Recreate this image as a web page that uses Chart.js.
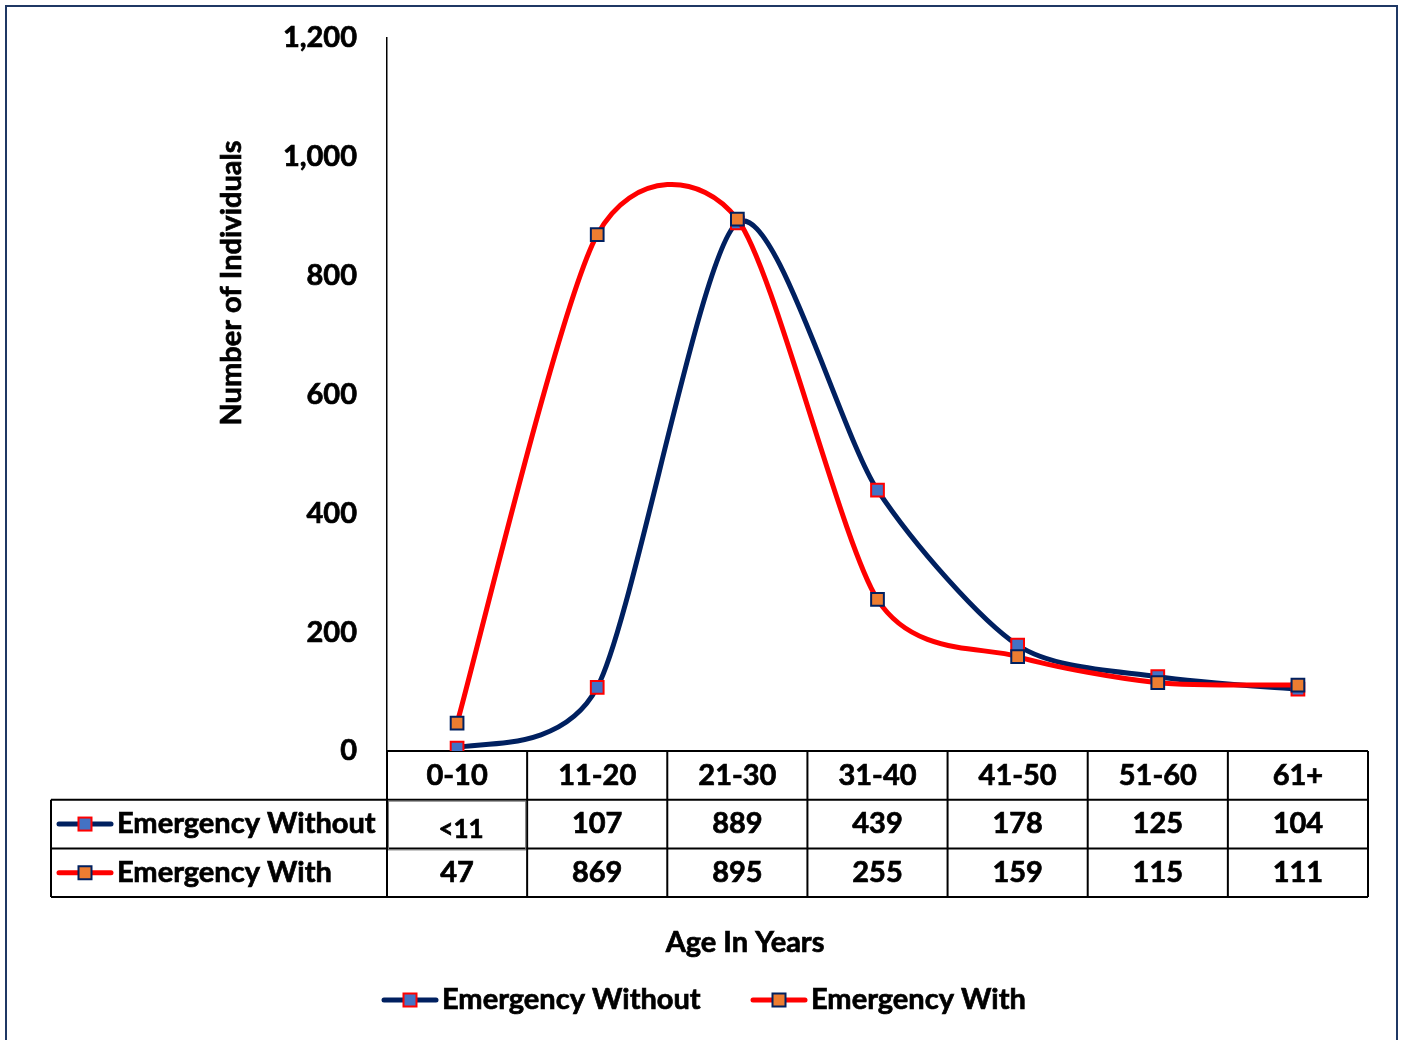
<!DOCTYPE html>
<html>
<head>
<meta charset="utf-8">
<script src="https://cdn.jsdelivr.net/npm/chart.js@4.4.1/dist/chart.umd.min.js"></script>
<style>
  body { margin: 0; background: #fff; }
  #wrap { width: 1404px; height: 1040px; }
</style>
</head>
<body>
<div id="wrap"><canvas id="js-age-chart" width="1404" height="1040"></canvas></div>
<script>
const ageGroups = ['0-10', '11-20', '21-30', '31-40', '41-50', '51-60', '61+'];
const withoutValues = [5, 107, 889, 439, 178, 125, 104];
const withValues = [47, 869, 895, 255, 159, 115, 111];
const withoutTableText = ['<11', '107', '889', '439', '178', '125', '104'];
const withTableText = ['47', '869', '895', '255', '159', '115', '111'];
const yTicks = [0, 200, 400, 600, 800, 1000, 1200];

const navy = '#002060';
const red = '#FF0000';
const blueFill = '#4472C4';
const orangeFill = '#ED7D31';
const fontFamily = 'Lato, "Open Sans", sans-serif';
const boldFont = 'bold 29px ' + fontFamily;

// excel style smoothing: control points at a fixed share of the neighbour span
const smoothing = 0.13;

function boldText(ctx, text, x, y) {
  ctx.fillText(text, x, y);
  ctx.strokeText(text, x, y);
}

// little line + square icon, same as excel's legend key
function drawKey(ctx, cx, cy, lineColor, fill, stroke) {
  ctx.save();
  ctx.strokeStyle = lineColor;
  ctx.lineWidth = 5;
  ctx.lineCap = 'round';
  ctx.beginPath();
  ctx.moveTo(cx - 26, cy);
  ctx.lineTo(cx + 26, cy);
  ctx.stroke();
  ctx.fillStyle = fill;
  ctx.fillRect(cx - 6.5, cy - 6.5, 13, 13);
  ctx.strokeStyle = stroke;
  ctx.lineWidth = 2;
  ctx.strokeRect(cx - 6.5, cy - 6.5, 13, 13);
  ctx.restore();
}

const excelSmoothPlugin = {
  id: 'excelSmooth',
  beforeDatasetsDraw(chart) {
    chart.getSortedVisibleDatasetMetas().forEach((meta) => {
      meta.dataset.updateControlPoints(chart.chartArea, 'x');
      const pts = meta.data;
      pts.forEach((p, i) => {
        const prev = pts[i - 1] || p;
        const next = pts[i + 1] || p;
        const dx = (next.x - prev.x) * smoothing;
        const dy = (next.y - prev.y) * smoothing;
        p.cp1x = p.x - dx;
        p.cp1y = p.y - dy;
        p.cp2x = p.x + dx;
        p.cp2y = p.y + dy;
      });
    });
  }
};

const tablePlugin = {
  id: 'dataTable',
  beforeDatasetsDraw(chart) {
    const ctx = chart.ctx;
    const x = chart.scales.x;
    const area = chart.chartArea;
    const step = x.getPixelForValue(1) - x.getPixelForValue(0);
    const top = area.bottom;
    const rowH = 48.7;
    const legendLeft = 51;

    ctx.save();
    ctx.strokeStyle = '#000';
    ctx.lineWidth = 2;
    ctx.beginPath();
    // header row top = x axis
    ctx.moveTo(area.left, top);
    ctx.lineTo(area.right, top);
    for (let r = 1; r <= 3; r++) {
      ctx.moveTo(legendLeft, top + r * rowH);
      ctx.lineTo(area.right, top + r * rowH);
    }
    for (let i = 0; i <= ageGroups.length; i++) {
      const px = area.left + i * step;
      ctx.moveTo(px, top);
      ctx.lineTo(px, top + 3 * rowH);
    }
    ctx.moveTo(legendLeft, top + rowH);
    ctx.lineTo(legendLeft, top + 3 * rowH);
    ctx.stroke();

    // odd little inner box around the "<11" cell
    ctx.strokeStyle = '#777';
    ctx.lineWidth = 1;
    ctx.strokeRect(area.left + 1.5, top + rowH + 1.5, step - 3, rowH);

    ctx.fillStyle = '#000';
    ctx.strokeStyle = '#000';
    ctx.lineWidth = 0.7;
    ctx.textAlign = 'center';
    ctx.textBaseline = 'middle';
    ctx.font = boldFont;
    ageGroups.forEach((label, i) => {
      const cx = x.getPixelForValue(i);
      boldText(ctx, label, cx, top + rowH * 0.5);
      if (withoutTableText[i] === '<11') {
        ctx.font = 'bold 26px ' + fontFamily;
        boldText(ctx, withoutTableText[i], cx + 4, top + rowH * 1.5 + 6);
        ctx.font = boldFont;
      } else {
        boldText(ctx, withoutTableText[i], cx, top + rowH * 1.5);
      }
      boldText(ctx, withTableText[i], cx, top + rowH * 2.5);
    });

    // legend keys inside table
    ctx.textAlign = 'left';
    drawKey(ctx, 85, top + rowH * 1.5, navy, blueFill, red);
    boldText(ctx, 'Emergency Without', 117, top + rowH * 1.5);
    drawKey(ctx, 85, top + rowH * 2.5, red, orangeFill, navy);
    boldText(ctx, 'Emergency With', 117, top + rowH * 2.5);

    // axis titles
    ctx.textAlign = 'center';
    boldText(ctx, 'Age In Years', 745, 943);
    ctx.save();
    ctx.translate(232, 283);
    ctx.rotate(-Math.PI / 2);
    boldText(ctx, 'Number of Individuals', 0, 0);
    ctx.restore();

    // bottom legend
    ctx.textAlign = 'left';
    drawKey(ctx, 410, 1000, navy, blueFill, red);
    boldText(ctx, 'Emergency Without', 442, 1000);
    drawKey(ctx, 779, 1000, red, orangeFill, navy);
    boldText(ctx, 'Emergency With', 811, 1000);

    // outer chart frame
    ctx.strokeStyle = '#1F3864';
    ctx.lineWidth = 2;
    ctx.strokeRect(6, 6, 1391, 1040);
    ctx.restore();
  }
};

const ageData = {
  labels: ageGroups,
  datasets: [{
    label: 'Emergency Without',
    data: withoutValues,
    borderColor: navy,
    borderWidth: 5,
    pointStyle: 'rect',
    pointRadius: 9,
    pointBorderWidth: 2,
    pointBackgroundColor: blueFill,
    pointBorderColor: red,
    tension: .4,
    order: 2
  }, {
    label: 'Emergency With',
    data: withValues,
    borderColor: red,
    borderWidth: 5,
    pointStyle: 'rect',
    pointRadius: 9,
    pointBorderWidth: 2,
    pointBackgroundColor: orangeFill,
    pointBorderColor: navy,
    tension: .4,
    order: 1
  }]
};

const ageConfig = {
  type: 'line',
  data: ageData,
  plugins: [tablePlugin, excelSmoothPlugin],
  options: {
    responsive: false,
    animation: false,
    layout: {
      padding: { left: 0, top: 38, right: 36, bottom: 289 }
    },
    scales: {
      x: {
        display: false,
        offset: true
      },
      y: {
        min: 0,
        max: 1200,
        afterBuildTicks: (scale) => {
          scale.ticks = yTicks.map(v => ({ value: v }));
        },
        afterFit: (scale) => {
          scale.width = 387;
          scale.paddingTop = 0;
          scale.paddingBottom = 0;
        },
        grid: { display: false, drawTicks: false },
        border: { display: true, color: '#000', width: 1.5 },
        ticks: {
          padding: 30,
          color: '#000',
          textStrokeColor: '#000',
          textStrokeWidth: 0.7,
          font: { family: fontFamily, size: 29, weight: 'bold' }
        }
      }
    },
    plugins: {
      legend: { display: false },
      tooltip: { enabled: false }
    }
  }
};

new Chart(document.querySelector('#js-age-chart'), ageConfig);
</script>
</body>
</html>
